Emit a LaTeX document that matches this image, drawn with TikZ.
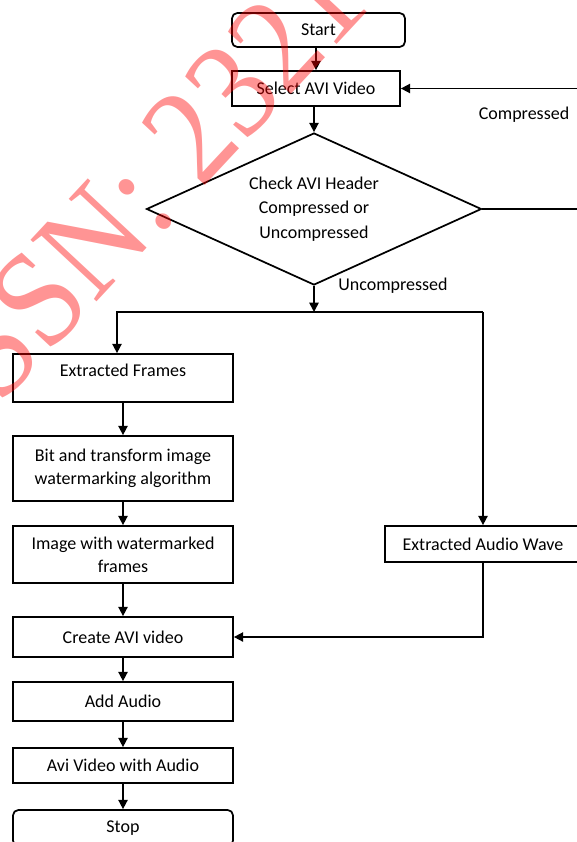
\documentclass[tikz,border=0pt]{standalone}
\usepackage{fontspec}
\setmainfont{Carlito}
\newfontfamily\wmfont{Liberation Serif}
\usetikzlibrary{shapes.geometric,arrows.meta}
\tikzset{
  box/.style={draw, line width=1.3pt, minimum width=165pt, inner sep=2pt, align=center, font=\fontsize{13.5}{17.5}\selectfont},
  rbox/.style={box, rounded corners=4pt},
  conn/.style={line width=1.2pt, -{Triangle[length=7pt,width=7pt]}},
  lbl/.style={font=\fontsize{13.5}{17.5}\selectfont, inner sep=0pt},
  wmark/.style={anchor=base, rotate=47, yscale=1.1, text=red, opacity=0.42, inner sep=0pt, font=\wmfont\fontsize{94}{98}\selectfont}
}
\begin{document}
\begin{tikzpicture}[x=0.75pt,y=-0.75pt]
\useasboundingbox (0,0) rectangle (577,842);
\clip (0,0) rectangle (577,842);
\fill[white] (0,0) rectangle (577,842);

\node[rbox, minimum width=129.75pt, minimum height=25.5pt] (start) at (318.5,30) {Start};
\node[box, minimum width=126pt, minimum height=26.25pt] (select) at (316,88.5) {Select AVI Video};
\node[draw, diamond, line width=1.3pt, aspect=2.2, minimum width=251.25pt, minimum height=114pt, inner sep=0pt, align=center, font=\fontsize{13.5}{18.4}\selectfont] (dia) at (314,209) {Check AVI Header\\Compressed or\\Uncompressed};

\node[box, minimum height=36pt, text height=9pt, text depth=11.5pt] (frames) at (123,378) {Extracted Frames};
\node[box, minimum height=48.75pt] (bit) at (123,468.5) {Bit and transform image\\watermarking algorithm};
\node[box, minimum height=42.75pt] (img) at (123,554.5) {Image with watermarked\\frames};
\node[box, minimum height=30pt] (create) at (123,637) {Create AVI video};
\node[box, minimum height=29.25pt] (add) at (123,701.5) {Add Audio};
\node[box, minimum height=26.25pt] (avi) at (123,765.5) {Avi Video with Audio};
\node[rbox, minimum height=27pt] (stop) at (123,828) {Stop};
\node[box, minimum width=147pt, minimum height=27pt] (audio) at (483,544) {Extracted Audio Wave};

\node[lbl] (lcomp) at (524,115) {Compressed};
\node[lbl] (lunc) at (393,286) {Uncompressed};

\coordinate (j) at (314,312);
\coordinate (jl) at (117,312);
\coordinate (jr) at (483,312);
\coordinate (er) at (582,209);
\coordinate (tr) at (582,88.5);

\draw[conn] (select.north |- start.south) -- (select.north);
\draw[conn] (dia.north |- select.south) -- (dia.north);
\draw[conn] (dia.south) -- (j);
\draw[conn] (jr) -- (jl) -- (jl |- frames.north);
\draw[conn] (jr) -- (audio.north);
\draw[conn] (frames.south) -- (bit.north);
\draw[conn] (bit.south) -- (img.north);
\draw[conn] (img.south) -- (create.north);
\draw[conn] (create.south) -- (add.north);
\draw[conn] (add.south) -- (avi.north);
\draw[conn] (avi.south) -- (stop.north);
\draw[conn] (audio.south) -- (audio.south |- create.east) -- (create.east);
\draw[conn] (dia.east) -- (er) -- (tr) -- (select.east);

\node[wmark] (wm) at (172,221.5) {ISSN: 2321};
\end{tikzpicture}
\end{document}
